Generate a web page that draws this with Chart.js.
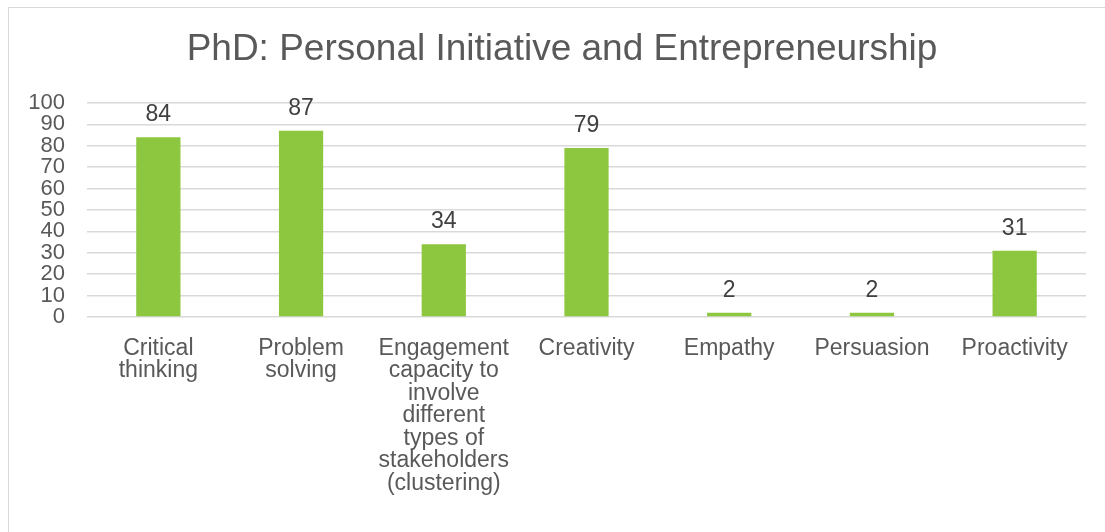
<!DOCTYPE html>
<html>
<head>
<meta charset="utf-8">
<script src="https://cdn.jsdelivr.net/npm/chart.js@4"></script>
<style>
  body { margin: 0; background: #fff; }
  #wrap { position: relative; width: 1105px; height: 532px; overflow: hidden; }
  #marco { position: absolute; left: 8px; top: 7px; width: 1110px; height: 600px;
           border: 1.5px solid #D9D9D9; pointer-events: none; }
  canvas { position: absolute; left: 0; top: 0; }
</style>
</head>
<body>
<div id="wrap">
  <canvas id="grafica" width="1105" height="532"></canvas>
  <div id="marco"></div>
</div>
<script>
// Categorias y valores
const categorias = [
    ['Critical', 'thinking'],
    ['Problem', 'solving'],
    ['Engagement', 'capacity to', 'involve', 'different', 'types of', 'stakeholders', '(clustering)'],
    ['Creativity'],
    ['Empathy'],
    ['Persuasion'],
    ['Proactivity']
];
const valores = [84, 87, 34, 79, 2, 2, 31];
const ticksY = [0, 10, 20, 30, 40, 50, 60, 70, 80, 90, 100];
const titulo = 'PhD: Personal Initiative and Entrepreneurship';

const colorTexto = '#595959';
const fuente = 'Arial, "Liberation Sans", sans-serif';

// Titulo centrado sobre el marco completo (no solo sobre el area de barras)
const tituloCentrado = {
    id: 'tituloCentrado',
    afterDraw(chart) {
        const ctx = chart.ctx;
        ctx.save();
        ctx.font = '37px ' + fuente;
        ctx.fillStyle = colorTexto;
        ctx.textAlign = 'center';
        ctx.textBaseline = 'middle';
        ctx.fillText(titulo, 562, 50);
        ctx.restore();
    }
};

// Etiquetas de valor encima de cada barra
const etiquetasValor = {
    id: 'etiquetasValor',
    afterDatasetsDraw(chart) {
        const ctx = chart.ctx;
        const meta = chart.getDatasetMeta(0);
        ctx.save();
        ctx.font = '23px ' + fuente;
        ctx.fillStyle = '#404040';
        ctx.textAlign = 'center';
        ctx.textBaseline = 'alphabetic';
        meta.data.forEach((barra, i) => {
            ctx.fillText(String(valores[i]), barra.x, barra.y - 16);
        });
        ctx.restore();
    }
};

const $grafica = document.getElementById('grafica').getContext('2d');

new Chart($grafica, {
    type: 'bar',
    data: {
        labels: categorias,
        datasets: [{
            data: valores,
            backgroundColor: '#8DC63F',
            borderWidth: 0,
            categoryPercentage: 1,
            barPercentage: 0.31
        }]
    },
    options: {
        responsive: false,
        animation: false,
        layout: { padding: { top: 103, right: 19, left: 0, bottom: 0 } },
        plugins: {
            legend: { display: false },
            tooltip: { enabled: false },
            title: { display: false }
        },
        scales: {
            x: {
                grid: { display: false, drawTicks: false },
                border: { display: false },
                ticks: {
                    color: colorTexto,
                    font: { size: 23, family: fuente, lineHeight: 0.98 },
                    padding: 20,
                    maxRotation: 0,
                    autoSkip: false
                },
                afterFit(scale) { scale.height = 215; }
            },
            y: {
                min: 0,
                max: 100,
                afterBuildTicks(scale) { scale.ticks = ticksY.map(v => ({ value: v })); },
                grid: { color: '#D9D9D9', lineWidth: 1.5, drawTicks: false },
                border: { display: false },
                ticks: {
                    color: colorTexto,
                    font: { size: 22, family: fuente, lineHeight: 1 },
                    padding: 22,
                    autoSkip: false
                },
                afterFit(scale) { scale.width = 87; }
            }
        }
    },
    plugins: [etiquetasValor, tituloCentrado]
});
</script>
</body>
</html>
